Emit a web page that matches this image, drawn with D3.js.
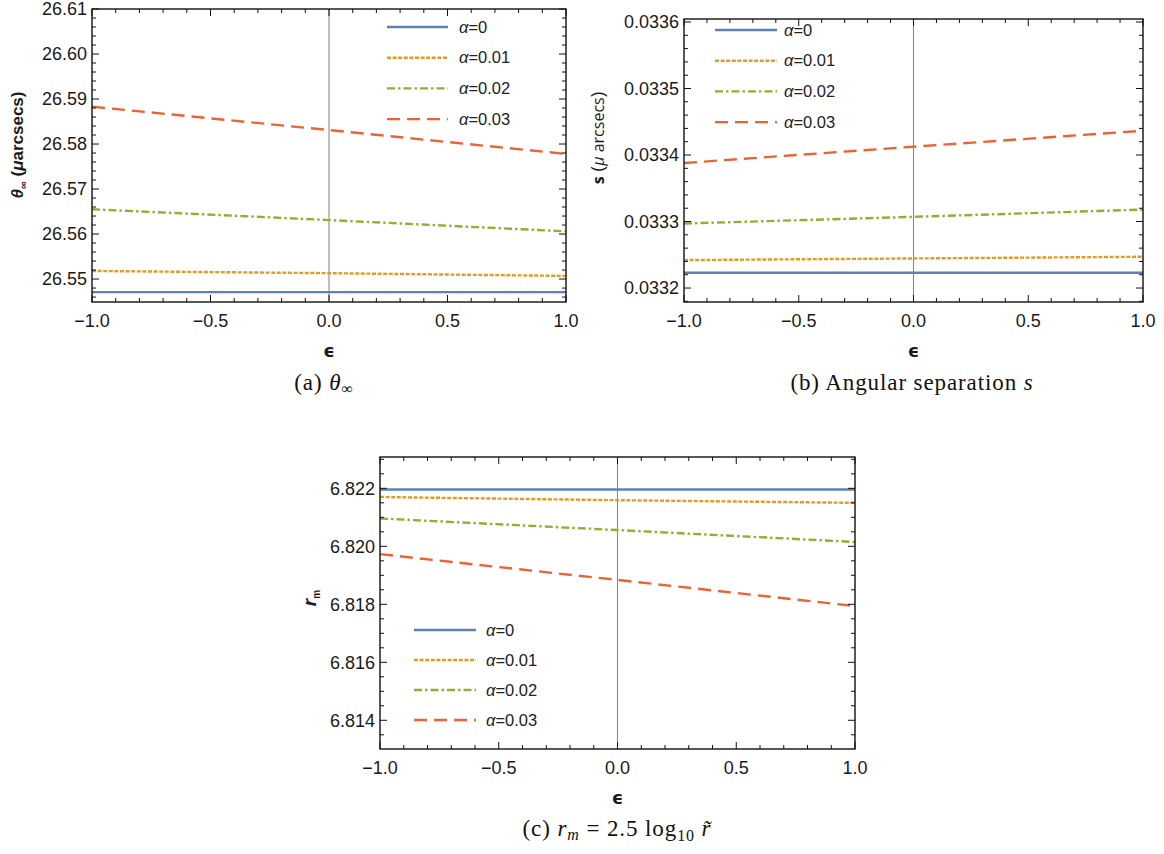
<!DOCTYPE html>
<html lang="en">
<head>
<meta charset="UTF-8">
<title>Lensing observables versus epsilon</title>
<script src="https://d3js.org/d3.v7.min.js"></script>
<style>
  body { margin: 0; background: #fff; }
  .tick-label { font-family: "Liberation Sans", Arial, sans-serif; font-size: 18px; fill: #1a1a1a; }
  .legend text { font-family: "Liberation Sans", Arial, sans-serif; font-size: 16.5px; fill: #222; }
  .ylab { font-family: "Liberation Sans", Arial, sans-serif; font-size: 17px; font-weight: bold; fill: #1a1a1a; }
  .xlab { font-family: "DejaVu Sans", sans-serif; font-size: 18px; font-weight: bold; fill: #1a1a1a; }
  .caption { font-family: "Liberation Serif", "DejaVu Serif", serif; font-size: 23px; letter-spacing: 0.9px; fill: #111; }
</style>
</head>
<body>
<svg id="chart" width="1164" height="854"></svg>
<script>
  // shared
  const epsilon = [-1, 0, 1];
  const alphaLabels = ["0", "0.01", "0.02", "0.03"];
  const xTicks = [-1, -0.5, 0, 0.5, 1];

  // (a) theta_inf in micro arcsecs
  const thetaTicks = [26.55, 26.56, 26.57, 26.58, 26.59, 26.60, 26.61];
  const thetaAlpha0 = [26.5471, 26.5471, 26.5471];
  const thetaAlpha1 = [26.5518, 26.5513, 26.5507];
  const thetaAlpha2 = [26.5655, 26.5631, 26.5606];
  const thetaAlpha3 = [26.5883, 26.5831, 26.5778];

  // (b) angular separation s
  const sepTicks = [0.0332, 0.0333, 0.0334, 0.0335, 0.0336];
  const sepAlpha0 = [0.033223, 0.033223, 0.033223];
  const sepAlpha1 = [0.033242, 0.0332445, 0.033247];
  const sepAlpha2 = [0.033297, 0.033307, 0.033318];
  const sepAlpha3 = [0.033388, 0.0334125, 0.0334365];

  // (c) r_m
  const rmTicks = [6.814, 6.816, 6.818, 6.820, 6.822];
  const rmAlpha0 = [6.82196, 6.82196, 6.82196];
  const rmAlpha1 = [6.82170, 6.82159, 6.82150];
  const rmAlpha2 = [6.82096, 6.82056, 6.82015];
  const rmAlpha3 = [6.81973, 6.81884, 6.81794];

  const colors = ["#5E81B5", "#E19C24", "#8FB032", "#EB6235"];
  const dashes = [null, "4,1.6", "8,3,2.5,3", "13,7"];

  const svg = d3.select("#chart");
  svg.append("rect").attr("width", 1164).attr("height", 854).attr("fill", "#fff");

  function drawPanel(p) {
    const x = d3.scaleLinear().domain([-1, 1]).range([p.left, p.right]);
    const y = d3.scaleLinear().domain(p.yDomain).range([p.bottom, p.top]);
    const g = svg.append("g");

    const clipId = "clip-" + p.id;
    g.append("clipPath").attr("id", clipId).append("rect")
      .attr("x", p.left).attr("y", p.top)
      .attr("width", p.right - p.left).attr("height", p.bottom - p.top);

    // vertical axis at eps = 0
    g.append("line")
      .attr("x1", x(0)).attr("x2", x(0))
      .attr("y1", p.top).attr("y2", p.bottom)
      .attr("stroke", "#8a8a8a").attr("stroke-width", 1.1);

    // series
    const line = d3.line().x((d, i) => x(epsilon[i])).y(d => y(d));
    p.series.forEach((s, i) => {
      g.append("path")
        .attr("d", line(s))
        .attr("fill", "none")
        .attr("stroke", colors[i])
        .attr("stroke-width", 2.4)
        .attr("stroke-dasharray", dashes[i])
        .attr("clip-path", `url(#${clipId})`);
    });

    // minor ticks (inward, all four sides)
    const xMinor = d3.range(-10, 11).map(k => k / 10).filter(v => !xTicks.includes(v));
    const yMinor = d3.range(-200, 200).map(k => p.yTicks[0] + k * p.yMinorStep)
      .filter(v => v > p.yDomain[0] && v < p.yDomain[1])
      .filter(v => !p.yTicks.some(t => Math.abs(t - v) < p.yMinorStep / 10));

    const tickG = g.append("g").attr("stroke", "#111").attr("stroke-width", 1);
    xMinor.forEach(v => {
      tickG.append("line").attr("x1", x(v)).attr("x2", x(v)).attr("y1", p.bottom).attr("y2", p.bottom - 4);
      tickG.append("line").attr("x1", x(v)).attr("x2", x(v)).attr("y1", p.top).attr("y2", p.top + 4);
    });
    xTicks.forEach(v => {
      tickG.append("line").attr("x1", x(v)).attr("x2", x(v)).attr("y1", p.bottom).attr("y2", p.bottom - 7);
      tickG.append("line").attr("x1", x(v)).attr("x2", x(v)).attr("y1", p.top).attr("y2", p.top + 7);
    });
    yMinor.forEach(v => {
      tickG.append("line").attr("x1", p.left).attr("x2", p.left + 4).attr("y1", y(v)).attr("y2", y(v));
      tickG.append("line").attr("x1", p.right).attr("x2", p.right - 4).attr("y1", y(v)).attr("y2", y(v));
    });
    p.yTicks.forEach(v => {
      tickG.append("line").attr("x1", p.left).attr("x2", p.left + 7).attr("y1", y(v)).attr("y2", y(v));
      tickG.append("line").attr("x1", p.right).attr("x2", p.right - 7).attr("y1", y(v)).attr("y2", y(v));
    });

    // frame
    g.append("rect")
      .attr("x", p.left).attr("y", p.top)
      .attr("width", p.right - p.left).attr("height", p.bottom - p.top)
      .attr("fill", "none").attr("stroke", "#111").attr("stroke-width", 1.4);

    // tick labels
    const fx = d3.format(".1f");
    xTicks.forEach(v => {
      g.append("text").attr("class", "tick-label")
        .attr("x", x(v)).attr("y", p.bottom + 25)
        .attr("text-anchor", "middle").text(fx(v));
    });
    const fy = d3.format(p.yFormat);
    p.yTicks.forEach(v => {
      g.append("text").attr("class", "tick-label")
        .attr("x", p.left - 5).attr("y", y(v)).attr("dy", "0.35em")
        .attr("text-anchor", "end").text(fy(v));
    });

    // legend
    const lg = g.append("g").attr("class", "legend");
    alphaLabels.forEach((a, i) => {
      const ly = p.legend.y + i * p.legend.step;
      lg.append("line")
        .attr("x1", p.legend.x1).attr("x2", p.legend.x2)
        .attr("y1", ly).attr("y2", ly)
        .attr("stroke", colors[i]).attr("stroke-width", 2.4)
        .attr("stroke-dasharray", dashes[i]);
      const t = lg.append("text").attr("x", p.legend.tx).attr("y", ly).attr("dy", "0.35em");
      t.append("tspan").attr("font-style", "italic").text("α");
      t.append("tspan").text("=" + a);
    });

    // x label
    g.append("text").attr("class", "xlab")
      .attr("x", x(0)).attr("y", p.bottom + 55)
      .attr("text-anchor", "middle").text("ϵ");

    return { x, y, g };
  }

  drawPanel({
    id: "a", left: 92, right: 566, top: 9, bottom: 302,
    yDomain: [26.5449, 26.6100], yTicks: thetaTicks, yMinorStep: 0.002, yFormat: ".2f",
    series: [thetaAlpha0, thetaAlpha1, thetaAlpha2, thetaAlpha3],
    legend: { x1: 387, x2: 448, tx: 459, y: 27, step: 30.7 }
  });

  drawPanel({
    id: "b", left: 684, right: 1143, top: 19, bottom: 302,
    yDomain: [0.033179, 0.0336045], yTicks: sepTicks, yMinorStep: 0.00002, yFormat: ".4f",
    series: [sepAlpha0, sepAlpha1, sepAlpha2, sepAlpha3],
    legend: { x1: 715, x2: 777, tx: 784, y: 30, step: 30.7 }
  });

  drawPanel({
    id: "c", left: 380, right: 855, top: 457, bottom: 749,
    yDomain: [6.81301, 6.82308], yTicks: rmTicks, yMinorStep: 0.0005, yFormat: ".3f",
    series: [rmAlpha0, rmAlpha1, rmAlpha2, rmAlpha3],
    legend: { x1: 414, x2: 476, tx: 486, y: 630, step: 30 }
  });

  // y labels
  const yla = svg.append("text").attr("class", "ylab")
    .attr("transform", "translate(23,145) rotate(-90)").attr("text-anchor", "middle");
  yla.append("tspan").attr("font-style", "italic").text("θ");
  yla.append("tspan").attr("font-size", "11px").attr("dy", "4").text("∞");
  yla.append("tspan").attr("dy", "-4").text(" (");
  yla.append("tspan").attr("font-style", "italic").text("μ");
  yla.append("tspan").text("arcsecs)");

  const ylb = svg.append("text")
    .attr("transform", "translate(604,138) rotate(-90)").attr("text-anchor", "middle")
    .attr("font-family", "'Open Sans', sans-serif").attr("font-size", "16px").attr("fill", "#1a1a1a");
  ylb.append("tspan").attr("font-weight", "bold").text("s");
  ylb.append("tspan").attr("font-size", "19px").text(" (");
  ylb.append("tspan").attr("font-style", "italic").text("μ");
  ylb.append("tspan").text(" arcsecs");
  ylb.append("tspan").attr("font-size", "19px").text(")");

  const ylc = svg.append("text").attr("class", "ylab")
    .attr("transform", "translate(316,598) rotate(-90)").attr("text-anchor", "middle");
  ylc.append("tspan").attr("font-style", "italic").attr("font-size", "19px").text("r");
  ylc.append("tspan").attr("font-size", "10px").attr("dy", "4").text("m");

  // captions
  const ca = svg.append("text").attr("class", "caption").attr("x", 324).attr("y", 390).attr("text-anchor", "middle");
  ca.append("tspan").text("(a)  ");
  ca.append("tspan").attr("font-style", "italic").text("θ");
  ca.append("tspan").attr("font-size", "16px").attr("dy", "4").text("∞");

  const cb = svg.append("text").attr("class", "caption").attr("x", 912).attr("y", 390).attr("text-anchor", "middle");
  cb.append("tspan").text("(b)  Angular separation ");
  cb.append("tspan").attr("font-style", "italic").text("s");

  const cc = svg.append("text").attr("class", "caption").attr("x", 617).attr("y", 836).attr("text-anchor", "middle");
  cc.append("tspan").text("(c)  ");
  cc.append("tspan").attr("font-style", "italic").text("r");
  cc.append("tspan").attr("font-style", "italic").attr("font-size", "16px").attr("dy", "4").text("m");
  cc.append("tspan").attr("dy", "-4").text(" = 2.5 log");
  cc.append("tspan").attr("font-size", "16px").attr("dy", "5").text("10");
  cc.append("tspan").attr("dy", "-5").text(" ");
  cc.append("tspan").attr("font-style", "italic").text("r̃");
</script>
</body>
</html>
